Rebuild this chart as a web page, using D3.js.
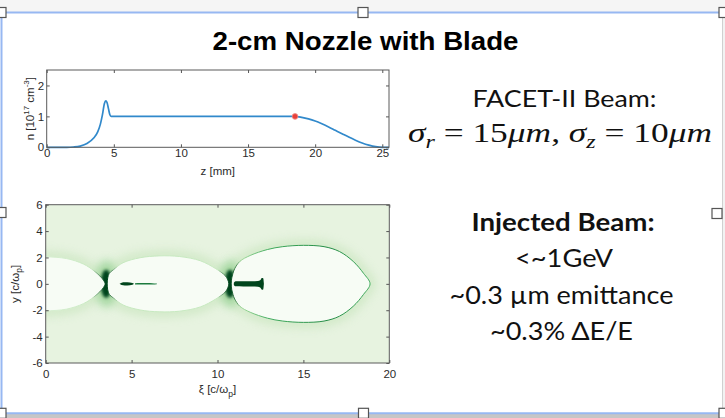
<!DOCTYPE html>
<html>
<head>
<meta charset="utf-8">
<script src="https://cdn.jsdelivr.net/npm/d3@7"></script>
<style>
  body { margin: 0; background: #fff; }
  svg { display: block; }
</style>
</head>
<body>
<svg id="slide" width="725" height="418"></svg>
<script>
// ---- plasma density profile along the nozzle (z in mm, n in 1e17 cm^-3)
const zPos    = [0, 1.5, 2.0, 2.5, 3.0, 3.5, 3.8, 4.0, 4.15, 4.3, 4.4, 4.5, 4.6, 4.7, 4.8, 10, 15, 18.5, 19.0, 19.5, 20.0, 20.5, 21.0, 21.5, 22.0, 22.5, 23.0, 23.5, 24.0, 24.5, 25.0, 25.5];
const density = [0, 0,   0.01, 0.04, 0.12, 0.3, 0.5, 0.75, 1.05, 1.42, 1.5, 1.44, 1.25, 1.06, 1.0, 1.0, 1.0, 1.0, 0.97, 0.92, 0.85, 0.76, 0.66, 0.55, 0.44, 0.33, 0.23, 0.14, 0.07, 0.02, 0, 0];
const markerZ = [18.5];
const markerN = [1.0];
const zTicks = [0, 5, 10, 15, 20, 25];
const nTicks = [0, 1, 2];

// ---- wake snapshot (xi, y in c/omega_p): bubble half-widths along xi
const frontXi   = [10.8, 10.83, 10.9, 11.0, 11.3, 11.9, 12.9, 13.8, 15.0, 16.2, 17.1, 17.9, 18.5, 18.88];
const frontHalf = [0,    0.45,  0.8,  1.15, 1.7,  2.15, 2.6,  2.82, 2.92, 2.82, 2.45, 1.7,  0.8,  0];
const secondXi   = [3.58, 3.61, 3.7,  3.95, 4.5, 5.5,  6.6,  7.8,  9.0,  9.9,  10.45, 10.6, 10.66];
const secondHalf = [0,    0.45, 0.8,  1.08, 1.6, 1.98, 2.12, 2.07, 1.75, 1.15, 0.62,  0.3,  0];
const thirdXi   = [-1.0, 0,    1.2,  2.2,  2.8,  3.15, 3.36, 3.46];
const thirdHalf = [2.08, 2.05, 1.92, 1.5,  1.0,  0.6,  0.28, 0];
const junctionXi = [3.52, 10.73];
// trailing beam in the second bucket (dense head, thinner tail)
const headXi   = [4.3, 4.42, 4.6, 4.9, 5.05, 5.15];
const headHalf = [0,   0.09, 0.12, 0.1, 0.07, 0];
const tailXi   = [5.2, 5.5, 5.9, 6.2, 6.47];
const tailHalf = [0.05, 0.055, 0.055, 0.05, 0.025];
// injected beam in the first bucket
const injXi   = [10.95, 11.05, 11.5, 12.0, 12.35, 12.5, 12.58, 12.66, 12.7];
const injHalf = [0.08,  0.19,  0.2,  0.2,  0.22,  0.3,  0.44,  0.42,  0];
const xiTicks = [0, 5, 10, 15, 20];
const yTicks = [-6, -4, -2, 0, 2, 4, 6];

// ---- slide text
const titleText = "2-cm Nozzle with Blade";
const beamHeading = "FACET-II Beam:";
const injectedLines = ["Injected Beam:", "<~1GeV", "~0.3 \u00b5m emittance", "~0.3% \u0394E/E"];

const svg = d3.select("#slide");
const defs = svg.append("defs");

// ---------- slide chrome: selection frame with handles
svg.append("rect").attr("x", 0).attr("y", 0).attr("width", 725).attr("height", 12).attr("fill", "#f5f5f5");
svg.append("rect").attr("x", 0).attr("y", 414).attr("width", 725).attr("height", 4).attr("fill", "#c6c6c6");
svg.append("line").attr("x1", 722.5).attr("x2", 722.5).attr("y1", 14).attr("y2", 414).attr("stroke", "#d0d0d0").attr("stroke-width", 1);
svg.append("rect").attr("x", 723).attr("y", 12).attr("width", 2).attr("height", 402).attr("fill", "#f2f2f2");
const frameBlue = "#97b8f2";
svg.append("line").attr("x1", 0).attr("x2", 722).attr("y1", 12.5).attr("y2", 12.5).attr("stroke", frameBlue).attr("stroke-width", 2);
svg.append("line").attr("x1", 1.5).attr("x2", 1.5).attr("y1", 12).attr("y2", 414).attr("stroke", frameBlue).attr("stroke-width", 2);
svg.append("line").attr("x1", 0).attr("x2", 725).attr("y1", 413.3).attr("y2", 413.3).attr("stroke", frameBlue).attr("stroke-width", 2);
const handles = [[1, 12.5], [363, 12.5], [724, 12.5], [1, 212.5], [717, 213.5], [1, 413.3], [363.5, 413.3], [724, 413.3]];
svg.selectAll("rect.handle").data(handles).enter().append("rect")
  .attr("class", "handle")
  .attr("x", d => d[0] - 5).attr("y", d => d[1] - 5)
  .attr("width", 10).attr("height", 10)
  .attr("fill", "#fff").attr("stroke", "#555").attr("stroke-width", 1.2);

// ---------- title
svg.append("text").attr("x", 365.5).attr("y", 49.5).attr("text-anchor", "middle")
  .attr("font-family", "Liberation Sans, Arial, sans-serif").attr("font-weight", "bold")
  .attr("font-size", 25.5).attr("textLength", 306).attr("lengthAdjust", "spacingAndGlyphs")
  .attr("fill", "#000").text(titleText);

// ---------- shared axis box (MATLAB style: inward ticks on all four sides)
const tickFont = "Liberation Sans, Arial, sans-serif";
const plain = d => String(d);
function axisBox(g, x, y, xt, yt, padX, padY) {
  const [x0, x1] = x.range();
  const [yb, yt0] = y.range();
  const style = sel => {
    sel.attr("font-family", tickFont).attr("font-size", 11.5).attr("color", "#2b2b2b");
    sel.select(".domain").remove();
    sel.selectAll(".tick line").attr("stroke", "#555");
  };
  g.append("g").attr("transform", `translate(0,${yb})`)
    .call(d3.axisBottom(x).tickValues(xt).tickFormat(plain).tickSizeInner(-3).tickSizeOuter(0).tickPadding(padX)).call(style);
  g.append("g").attr("transform", `translate(0,${yt0})`)
    .call(d3.axisTop(x).tickValues(xt).tickSizeInner(-3).tickSizeOuter(0).tickFormat("")).call(style);
  g.append("g").attr("transform", `translate(${x0},0)`)
    .call(d3.axisLeft(y).tickValues(yt).tickFormat(plain).tickSizeInner(-3).tickSizeOuter(0).tickPadding(padY)).call(style);
  g.append("g").attr("transform", `translate(${x1},0)`)
    .call(d3.axisRight(y).tickValues(yt).tickSizeInner(-3).tickSizeOuter(0).tickFormat("")).call(style);
  g.append("rect").attr("x", x0).attr("y", yt0).attr("width", x1 - x0).attr("height", yb - yt0)
    .attr("fill", "none").attr("stroke", "#5a5a5a").attr("stroke-width", 1);
}

// ---------- upper panel: density profile
const xz = d3.scaleLinear().domain([0, 25.5]).range([46.7, 389]);
const yn = d3.scaleLinear().domain([0, 2.5]).range([147.3, 70]);
const profilePanel = svg.append("g");
const profile = zPos.map((z, i) => [z, density[i]]);
profilePanel.append("path").datum(profile)
  .attr("d", d3.line().x(d => xz(d[0])).y(d => yn(d[1])).curve(d3.curveMonotoneX))
  .attr("fill", "none").attr("stroke", "#3189cb").attr("stroke-width", 1.7);
profilePanel.selectAll("circle").data(markerZ.map((z, i) => [z, markerN[i]])).enter().append("circle")
  .attr("cx", d => xz(d[0])).attr("cy", d => yn(d[1])).attr("r", 2.8)
  .attr("fill", "#e8403a").attr("stroke", "#f08a84").attr("stroke-width", 0.8);
axisBox(profilePanel, xz, yn, zTicks, nTicks, 2, 2.5);
profilePanel.append("text").attr("x", 217.8).attr("y", 174.5).attr("text-anchor", "middle")
  .attr("font-family", tickFont).attr("font-size", 11.5).attr("fill", "#2b2b2b").text("z [mm]");
const nLabel = profilePanel.append("text").attr("transform", "translate(33.5,108.7) rotate(-90)")
  .attr("text-anchor", "middle").attr("font-family", tickFont).attr("font-size", 11.5).attr("fill", "#2b2b2b");
nLabel.append("tspan").text("n [10");
nLabel.append("tspan").attr("font-size", 8).attr("dy", -4.5).text("17");
nLabel.append("tspan").attr("dy", 4.5).text(" cm");
nLabel.append("tspan").attr("font-size", 8).attr("dy", -4.5).text("-3");
nLabel.append("tspan").attr("dy", 4.5).text("]");

// ---------- lower panel: wake density snapshot
const xx = d3.scaleLinear().domain([0, 20]).range([45.7, 389.3]);
const yy = d3.scaleLinear().domain([-6, 6]).range([363, 204.7]);
const wakePanel = svg.append("g");
defs.append("clipPath").attr("id", "plotClip").append("rect")
  .attr("x", xx(0)).attr("y", yy(6)).attr("width", xx(20) - xx(0)).attr("height", yy(-6) - yy(6));
[["blurWide", 4], ["blurMid", 1.4], ["blurSoft", 0.6]].forEach(([id, s]) => {
  defs.append("filter").attr("id", id).attr("x", "-50%").attr("y", "-50%").attr("width", "200%").attr("height", "200%")
    .append("feGaussianBlur").attr("stdDeviation", s);
});
const field = wakePanel.append("g").attr("clip-path", "url(#plotClip)");
field.append("rect").attr("x", xx(0)).attr("y", yy(6)).attr("width", xx(20) - xx(0)).attr("height", yy(-6) - yy(6))
  .attr("fill", "#e7f3e0");

function outline(xi, half) {
  const upper = xi.map((x, i) => [x, half[i]]);
  const lower = xi.map((x, i) => [x, -half[i]]).reverse();
  return upper.concat(lower.filter(p => p[1] !== 0));
}
const shapeLine = d3.line().x(d => xx(d[0])).y(d => yy(d[1])).curve(d3.curveCatmullRomClosed.alpha(0.5));
const bubbles = [
  { id: "front", pts: outline(frontXi, frontHalf), width: 1.0,
    grad: [[10.75, "#00441b"], [11.4, "#a1d99b"], [13, "#41ab5d"], [16.5, "#238b45"], [18.9, "#41ab5d"]] },
  { id: "second", pts: outline(secondXi, secondHalf), width: 1.0,
    grad: [[3.58, "#00441b"], [4.2, "#c7e9c0"], [10.0, "#c7e9c0"], [10.66, "#00441b"]] },
  { id: "third", pts: outline(thirdXi, thirdHalf), width: 1.0,
    grad: [[0, "#d9f0d3"], [2.7, "#c7e9c0"], [3.46, "#00441b"]] }
];
bubbles.forEach(b => {
  const lg = defs.append("linearGradient").attr("id", "sheath-" + b.id).attr("gradientUnits", "userSpaceOnUse")
    .attr("x1", xx(b.grad[0][0])).attr("x2", xx(b.grad[b.grad.length - 1][0])).attr("y1", 0).attr("y2", 0);
  const span = b.grad[b.grad.length - 1][0] - b.grad[0][0];
  b.grad.forEach(([x, c]) => lg.append("stop").attr("offset", (x - b.grad[0][0]) / span).attr("stop-color", c));
});
// diffuse halo around the bubbles
field.selectAll("path.halo").data(bubbles).enter().append("path")
  .attr("d", b => shapeLine(b.pts)).attr("fill", "none")
  .attr("stroke", "#c6e4bb").attr("stroke-width", 12).attr("opacity", 0.6).attr("filter", "url(#blurWide)");
// dense electron sheath where the buckets meet
field.selectAll("ellipse.junction-glow").data(junctionXi).enter().append("ellipse")
  .attr("cx", d => xx(d)).attr("cy", yy(0)).attr("rx", 11).attr("ry", 24)
  .attr("fill", "#74c476").attr("opacity", 0.5).attr("filter", "url(#blurWide)");
field.selectAll("ellipse.junction").data(junctionXi).enter().append("ellipse")
  .attr("cx", d => xx(d)).attr("cy", yy(0)).attr("rx", 5.5).attr("ry", 14)
  .attr("fill", "#00441b").attr("filter", "url(#blurMid)");
// evacuated bubbles
field.selectAll("path.bubble").data(bubbles).enter().append("path")
  .attr("d", b => shapeLine(b.pts)).attr("fill", "#f7fcf5")
  .attr("stroke", b => `url(#sheath-${b.id})`).attr("stroke-width", b => b.width).attr("filter", "url(#blurSoft)");
// beams
const beamArea = d3.area().x(d => xx(d[0])).y0(d => yy(-d[1])).y1(d => yy(d[1])).curve(d3.curveMonotoneX);
field.append("path").datum(headXi.map((x, i) => [x, headHalf[i]])).attr("d", beamArea)
  .attr("fill", "#00441b").attr("filter", "url(#blurSoft)");
field.append("path").datum(tailXi.map((x, i) => [x, tailHalf[i]])).attr("d", beamArea)
  .attr("fill", "#1d7a3c").attr("filter", "url(#blurSoft)");
field.append("path").datum(injXi.map((x, i) => [x, injHalf[i]])).attr("d", beamArea)
  .attr("fill", "#00441b").attr("filter", "url(#blurSoft)");

axisBox(wakePanel, xx, yy, xiTicks, yTicks, 7, 3);
const xiLabel = wakePanel.append("text").attr("x", 217.5).attr("y", 393).attr("text-anchor", "middle")
  .attr("font-family", tickFont).attr("font-size", 11.5).attr("fill", "#2b2b2b");
xiLabel.append("tspan").text("\u03be [c/\u03c9");
xiLabel.append("tspan").attr("font-size", 8.5).attr("dy", 3.5).text("p");
xiLabel.append("tspan").attr("dy", -3.5).text("]");
const yLabel = wakePanel.append("text").attr("transform", "translate(18.5,283.9) rotate(-90)")
  .attr("text-anchor", "middle").attr("font-family", tickFont).attr("font-size", 11.5).attr("fill", "#2b2b2b");
yLabel.append("tspan").text("y [c/\u03c9");
yLabel.append("tspan").attr("font-size", 8.5).attr("dy", 3.5).text("p");
yLabel.append("tspan").attr("dy", -3.5).text("]");

// ---------- beam parameters
const lato = "Lato, 'Open Sans', sans-serif";
svg.append("text").attr("x", 564.5).attr("y", 107).attr("text-anchor", "middle")
  .attr("font-family", lato).attr("font-size", 23.5)
  .attr("textLength", 184).attr("lengthAdjust", "spacingAndGlyphs")
  .attr("fill", "#111").text(beamHeading);
const math = svg.append("text").attr("x", 560).attr("y", 141.7).attr("text-anchor", "middle")
  .attr("font-family", "Liberation Serif, 'DejaVu Serif', serif").attr("font-size", 28)
  .attr("textLength", 304).attr("lengthAdjust", "spacingAndGlyphs").attr("fill", "#111");
math.append("tspan").attr("font-style", "italic").text("\u03c3");
math.append("tspan").attr("font-style", "italic").attr("font-size", 19).attr("dy", 6).text("r");
math.append("tspan").attr("dy", -6).text(" = 15");
math.append("tspan").attr("font-style", "italic").text("\u03bcm");
math.append("tspan").text(", ");
math.append("tspan").attr("font-style", "italic").text("\u03c3");
math.append("tspan").attr("font-style", "italic").attr("font-size", 19).attr("dy", 6).text("z");
math.append("tspan").attr("dy", -6).text(" = 10");
math.append("tspan").attr("font-style", "italic").text("\u03bcm");

const injBase = [230.7, 267.3, 303.5, 340];
const injWidth = [183, 98, 224, 143];
const injCenter = [563, 564, 561.5, 561.5];
svg.selectAll("text.inj").data(injectedLines).enter().append("text")
  .attr("class", "inj")
  .attr("x", (d, i) => injCenter[i]).attr("y", (d, i) => injBase[i]).attr("text-anchor", "middle")
  .attr("font-family", lato).attr("font-size", 25)
  .attr("textLength", (d, i) => injWidth[i]).attr("lengthAdjust", "spacingAndGlyphs")
  .attr("font-weight", (d, i) => i === 0 ? "bold" : "normal")
  .attr("fill", "#111").text(d => d);
</script>
</body>
</html>
